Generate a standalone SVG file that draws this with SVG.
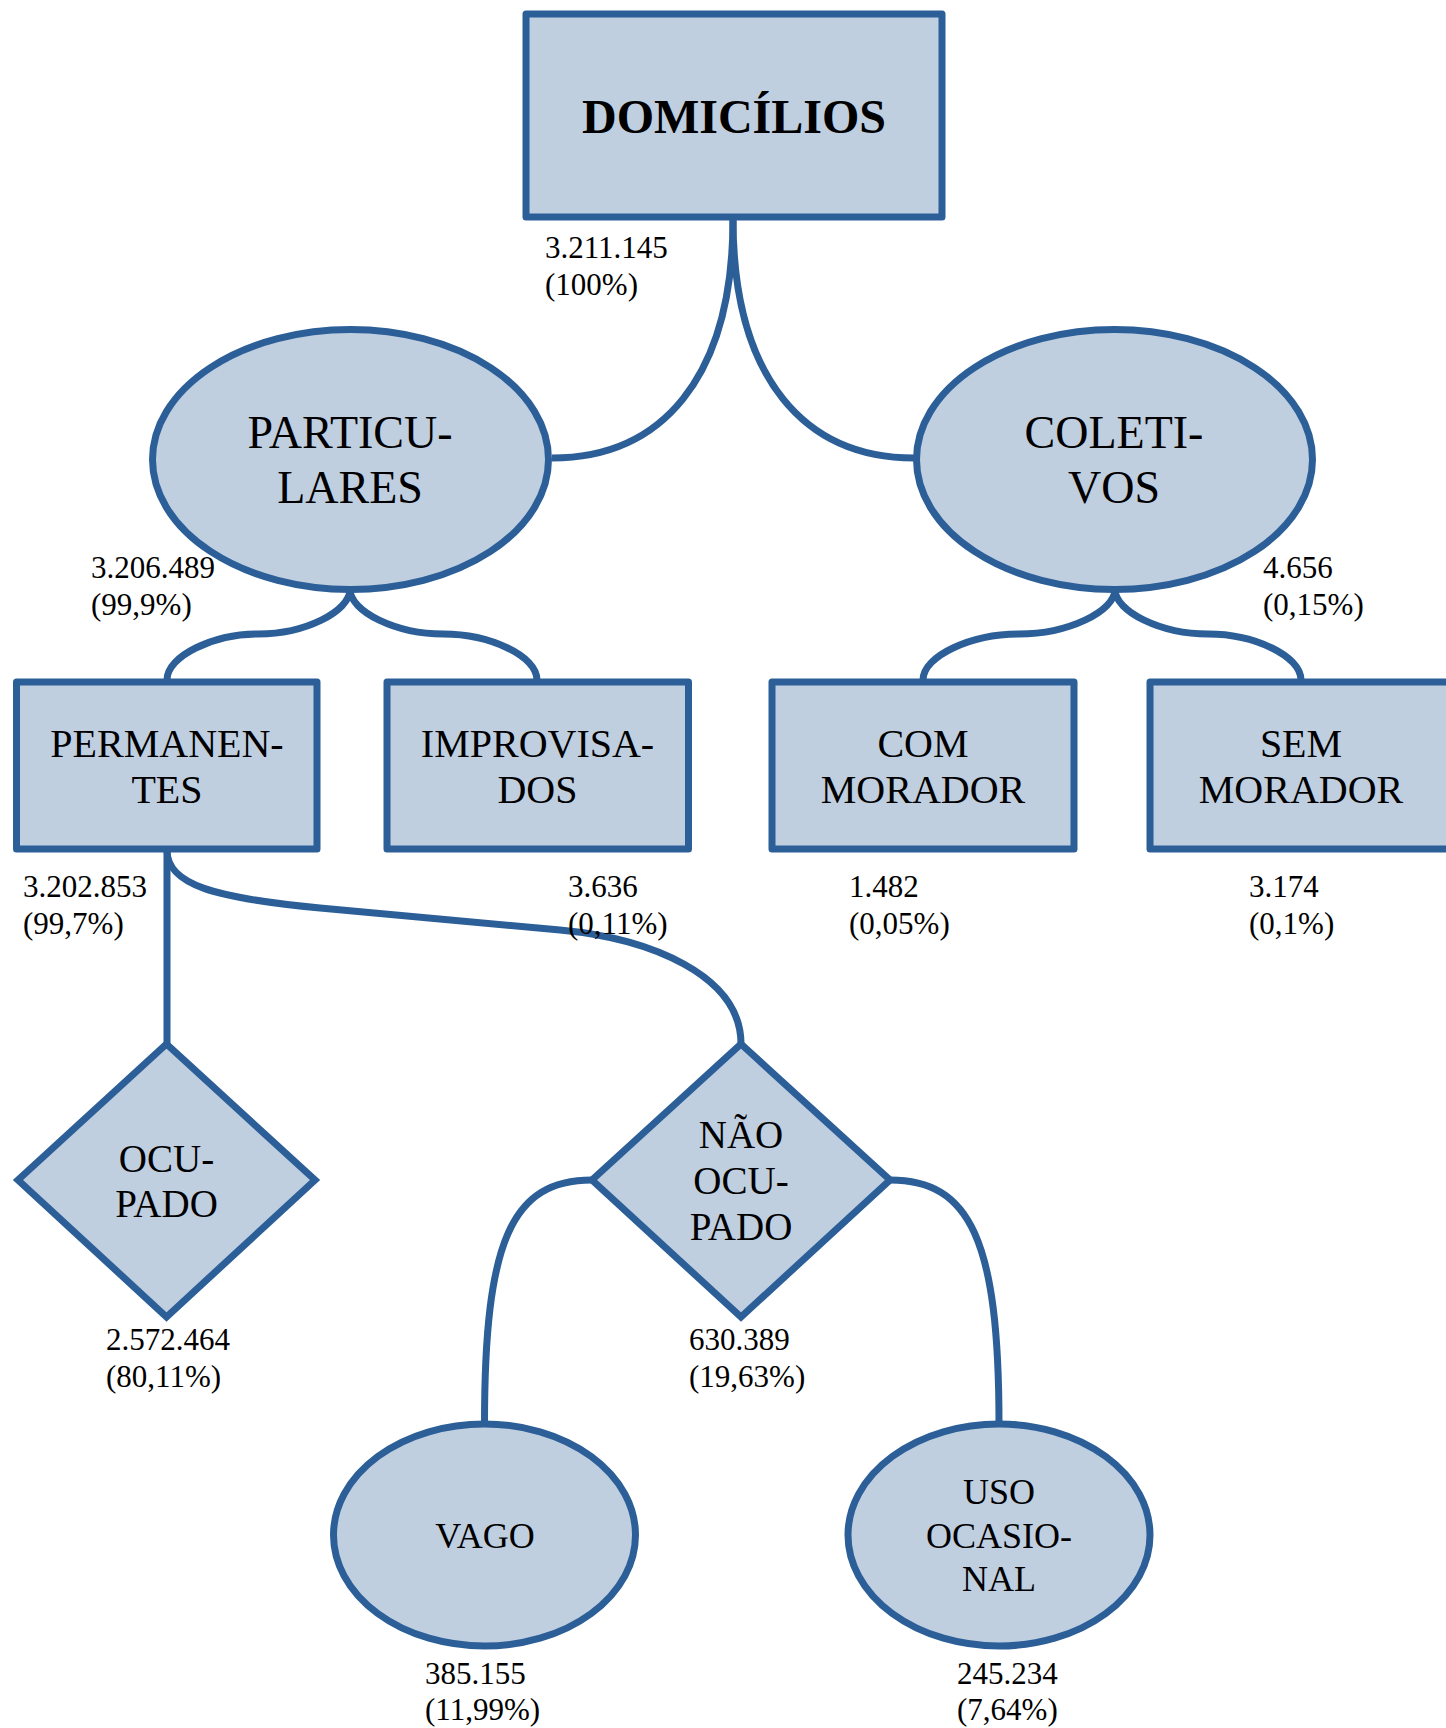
<svg xmlns="http://www.w3.org/2000/svg" width="1446" height="1728" viewBox="0 0 1446 1728">
<style>
.n{fill:#BFCFE0;stroke:#2C5F98;stroke-width:7}
.r{stroke-linejoin:round}
.d{stroke-linejoin:miter}
.c{fill:none;stroke:#2C5F98;stroke-width:7}
text{font-family:"Liberation Serif","Times New Roman",serif;fill:#000}
.t48{font-size:48px;font-weight:bold;text-anchor:middle}
.t46{font-size:46px;text-anchor:middle}
.t40{font-size:40px;text-anchor:middle}
.t39{font-size:39px;text-anchor:middle}
.t36{font-size:36px;text-anchor:middle}
.v{font-size:31px}
</style>
<rect width="1446" height="1728" fill="#fff"/>
<g id="connectors">
<path class="c" d="M733,219 C733,380 660,458 552,458"/>
<path class="c" d="M733,219 C733,380 806,458 914,458"/>
<path class="c" d="M350,589 C350,612 304,634 258.5,634 C213,634 167,656 167,680"/>
<path class="c" d="M350,589 C350,612 396.7,634 443.3,634 C490,634 537,656 537,680"/>
<path class="c" d="M1115,589 C1115,612 1067,634 1019,634 C971,634 923,656 923,680"/>
<path class="c" d="M1115,589 C1115,612 1161.5,634 1208,634 C1254.5,634 1301,656 1301,680"/>
<path class="c" d="M167,850 L167,1044"/>
<path class="c" d="M167,850 C167,885 215,898 320,908 L560,930 C650,938.3 741,975 741,1044"/>
<path class="c" d="M592,1180 C512,1180 484.5,1240 484.5,1424"/>
<path class="c" d="M890,1180 C970,1180 999,1240 999,1424"/>
</g>
<g id="domicilios">
<rect class="n r" x="526" y="14" width="416" height="203"/>
<text class="t48" x="734" y="133">DOMICÍLIOS</text>
<text class="v" x="545" y="258">3.211.145</text>
<text class="v" x="545" y="295">(100%)</text>
</g>
<g id="particulares">
<ellipse class="n" cx="350.5" cy="459.5" rx="198" ry="130"/>
<text class="t46" x="350" y="448">PARTICU-</text>
<text class="t46" x="350" y="503">LARES</text>
<text class="v" x="91" y="578">3.206.489</text>
<text class="v" x="91" y="615">(99,9%)</text>
</g>
<g id="coletivos">
<ellipse class="n" cx="1114.5" cy="459.5" rx="198" ry="130"/>
<text class="t46" x="1114" y="448">COLETI-</text>
<text class="t46" x="1114" y="503">VOS</text>
<text class="v" x="1263" y="578">4.656</text>
<text class="v" x="1263" y="615">(0,15%)</text>
</g>
<g id="permanentes">
<rect class="n r" x="16.5" y="682" width="300.5" height="167"/>
<text class="t40" x="167" y="757">PERMANEN-</text>
<text class="t40" x="167" y="803">TES</text>
<text class="v" x="23" y="897">3.202.853</text>
<text class="v" x="23" y="934">(99,7%)</text>
</g>
<g id="improvisados">
<rect class="n r" x="387" y="682" width="301.5" height="167"/>
<text class="t40" x="537.5" y="757">IMPROVISA-</text>
<text class="t40" x="537.5" y="803">DOS</text>
<text class="v" x="568" y="897">3.636</text>
<text class="v" x="568" y="934">(0,11%)</text>
</g>
<g id="com-morador">
<rect class="n r" x="772" y="682" width="302" height="167"/>
<text class="t40" x="923" y="757">COM</text>
<text class="t40" x="923" y="803">MORADOR</text>
<text class="v" x="849" y="897">1.482</text>
<text class="v" x="849" y="934">(0,05%)</text>
</g>
<g id="sem-morador">
<rect class="n r" x="1150" y="682" width="302" height="167"/>
<text class="t40" x="1301" y="757">SEM</text>
<text class="t40" x="1301" y="803">MORADOR</text>
<text class="v" x="1249" y="897">3.174</text>
<text class="v" x="1249" y="934">(0,1%)</text>
</g>
<g id="ocupado">
<polygon class="n d" points="166.5,1044 315,1180 166.5,1317 18,1180"/>
<text class="t39" x="166.5" y="1172">OCU-</text>
<text class="t39" x="166.5" y="1217">PADO</text>
<text class="v" x="106" y="1350">2.572.464</text>
<text class="v" x="106" y="1387">(80,11%)</text>
</g>
<g id="nao-ocupado">
<polygon class="n d" points="741,1044 890,1180 741,1317 592,1180"/>
<text class="t39" x="741" y="1148">NÃO</text>
<text class="t39" x="741" y="1194">OCU-</text>
<text class="t39" x="741" y="1240">PADO</text>
<text class="v" x="689" y="1350">630.389</text>
<text class="v" x="689" y="1387">(19,63%)</text>
</g>
<g id="vago">
<ellipse class="n" cx="484.5" cy="1535" rx="151" ry="111"/>
<text class="t36" x="485" y="1548">VAGO</text>
<text class="v" x="425" y="1684">385.155</text>
<text class="v" x="425" y="1720">(11,99%)</text>
</g>
<g id="uso-ocasional">
<ellipse class="n" cx="999" cy="1535" rx="151" ry="111"/>
<text class="t36" x="999" y="1504">USO</text>
<text class="t36" x="999" y="1548">OCASIO-</text>
<text class="t36" x="999" y="1591">NAL</text>
<text class="v" x="957" y="1684">245.234</text>
<text class="v" x="957" y="1720">(7,64%)</text>
</g>
</svg>
